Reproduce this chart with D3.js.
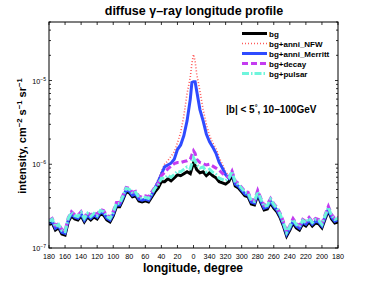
<!DOCTYPE html>
<html>
<head>
<meta charset="utf-8">
<script src="https://cdn.jsdelivr.net/npm/d3@7"></script>
<style>
  html, body { margin: 0; padding: 0; background: #fff; }
  svg text { font-family: "Liberation Sans", Arial, sans-serif; }
</style>
</head>
<body>
<div id="chart"></div>
<script>
// galactic longitude (deg), plotted 180 -> 0 -> -180 (shown as 360-l)
var lon = [180,176,172,168,164,160,156,152,148,144,140,136,132,128,124,120,116,112,108,104,100,
    96,92,88,84,80,76,72,68,64,60,56,52,48,44,40,36,32,28,24,20,16,12,8,4,2,0,-2,
    -4,-8,-12,-16,-20,-24,-28,-32,-36,-40,-44,-48,-52,-56,-60,-64,-68,-72,-76,-80,-84,-88,-92,-96,-100,
    -104,-108,-112,-116,-120,-124,-128,-132,-136,-140,-144,-148,-152,-156,-160,-164,-168,-172,-176,-180];

// intensities in units of 1e-7 cm^-2 s^-1 sr^-1
var bg = [1.89,2.00,1.64,1.74,1.47,1.43,2.05,2.42,2.22,2.16,2.42,2.05,2.35,2.16,2.35,2.22,2.55,2.48,2.16,2.05,2.42,
    3.10,3.10,3.76,4.68,4.56,4.08,4.20,3.65,3.55,3.65,3.55,4.08,4.68,5.20,6.20,6.20,6.70,6.35,6.88,7.48,7.30,7.70,8.13,7.70,9.00,10.4,9.6,
    8.6,7.9,8.13,7.3,7.9,7.3,6.88,6.2,6.0,5.8,6.2,7.48,5.5,5.2,4.68,4.2,4.08,3.36,3.27,4.3,3.46,2.85,2.93,3.46,3.0,
    2.70,2.29,1.83,1.39,1.64,1.99,1.74,1.64,1.94,1.83,2.05,1.83,1.99,1.94,1.74,2.22,2.78,2.22,1.99,2.05];

var annNFW = [1.98,2.10,1.72,1.83,1.54,1.50,2.15,2.54,2.33,2.27,2.54,2.15,2.47,2.27,2.47,2.33,2.68,2.60,2.27,2.15,2.54,
    3.26,3.26,3.95,4.91,4.79,4.28,4.41,3.83,3.73,3.83,3.73,4.30,5.40,6.60,8.2,10.0,11.0,12.5,14.0,18.0,24.0,38.0,70.0,110,160,205,170,
    120,75.0,45.0,30.0,22.0,18.0,15.5,12.0,10.0,8.2,7.2,8.2,6.0,5.46,4.91,4.41,4.28,3.53,3.43,4.52,3.63,2.99,3.08,3.63,3.15,
    2.84,2.40,1.92,1.46,1.72,2.09,1.83,1.72,2.04,1.92,2.15,1.92,2.09,2.04,1.83,2.33,2.92,2.33,2.09,2.15];

var annMerritt = [1.98,2.10,1.72,1.83,1.54,1.50,2.15,2.54,2.33,2.27,2.54,2.15,2.47,2.27,2.47,2.33,2.68,2.60,2.27,2.15,2.54,
    3.26,3.26,3.95,4.91,4.79,4.28,4.41,3.83,3.73,3.83,3.73,4.30,5.20,6.20,7.6,9.3,9.8,10.3,11.5,15.0,17.0,22.0,33.0,60.0,95.0,97.0,97.0,
    75.0,45.0,33.0,23.0,18.5,16.0,13.5,10.5,9.0,7.5,6.8,7.9,5.8,5.46,4.91,4.41,4.28,3.53,3.43,4.52,3.63,2.99,3.08,3.63,3.15,
    2.84,2.40,1.92,1.46,1.72,2.09,1.83,1.72,2.04,1.92,2.15,1.92,2.09,2.04,1.83,2.33,2.92,2.33,2.09,2.15];

var decay = [2.12,2.25,1.86,1.95,1.66,1.60,2.30,2.72,2.50,2.45,2.72,2.32,2.66,2.45,2.66,2.52,2.88,2.80,2.45,2.32,2.74,
    3.50,3.50,4.25,5.28,5.15,4.62,4.75,4.15,4.05,4.20,4.10,4.70,5.35,5.90,7.30,8.00,8.80,9.50,10.2,10.5,10.5,10.8,11.0,11.5,13.0,14.5,13.5,
    11.5,10.5,10.2,9.8,10.0,9.5,9.0,8.5,7.8,7.2,7.0,8.3,6.3,5.9,5.30,4.75,4.62,3.80,3.70,4.86,3.91,3.22,3.31,3.91,3.39,
    3.05,2.59,2.07,1.57,1.85,2.25,1.97,1.85,2.19,2.07,2.32,2.07,2.25,2.19,1.97,2.51,3.14,2.51,2.25,2.32];

var pulsar = [2.08,2.20,1.80,1.91,1.62,1.57,2.26,2.66,2.44,2.38,2.66,2.26,2.59,2.38,2.59,2.44,2.81,2.73,2.38,2.26,2.66,
    3.41,3.41,4.14,5.15,5.02,4.49,4.62,4.02,3.91,4.02,3.91,4.49,5.15,5.72,6.82,6.82,7.37,6.99,7.57,8.23,8.10,8.70,9.30,8.90,10.3,12.0,11.0,
    9.9,9.0,9.3,8.1,8.7,8.0,7.57,6.82,6.6,6.38,6.82,8.23,6.05,5.72,5.15,4.62,4.49,3.70,3.60,4.73,3.81,3.14,3.22,3.81,3.30,
    2.97,2.52,2.01,1.53,1.80,2.19,1.91,1.80,2.13,2.01,2.26,2.01,2.19,2.13,1.91,2.44,3.06,2.44,2.19,2.26];

var seriesNames = ["bg", "bg+anni_NFW", "bg+anni_Merritt", "bg+decay", "bg+pulsar"];
var seriesValues = [bg, annNFW, annMerritt, decay, pulsar];
var xTicks = [180,160,140,120,100,80,60,40,20,0,-20,-40,-60,-80,-100,-120,-140,-160,-180];
var yDecades = [-7, -6, -5];

var LongitudeProfileChart = function(objId) {
    this.objId = objId;
    this.width = 374;
    this.height = 281;
    this.margin = { left: 49, right: 36, top: 22, bottom: 33 };
};

LongitudeProfileChart.prototype = function() {

    var styles = [
        { color: "#000000", width: 3, dash: null },
        { color: "#ff5a5a", width: 1.6, dash: "1,2" },
        { color: "#2f4bff", width: 3, dash: null },
        { color: "#c43cf0", width: 3, dash: "6,3" },
        { color: "#6ef5dc", width: 3, dash: "7,2,1.5,2" }
    ];

    function sup(sel, txt) {
        sel.append("tspan").attr("baseline-shift", "super").attr("font-size", "70%").text(txt);
    }

    function draw() {
        var _this = this,
            m = _this.margin,
            x0 = m.left, x1 = _this.width - m.right,
            y0 = _this.height - m.bottom, y1 = m.top;

        var svg = d3.select("#" + _this.objId).append("svg")
            .attr("width", _this.width)
            .attr("height", _this.height);

        var x = d3.scaleLinear().domain([180, -180]).range([x0, x1]);
        var y = d3.scaleLog().domain([1e-7, 5e-5]).range([y0, y1]);

        // clip
        svg.append("clipPath").attr("id", "plotClip")
            .append("rect").attr("x", x0).attr("y", y1).attr("width", x1 - x0).attr("height", y0 - y1);

        var line = d3.line()
            .x(function(d) { return x(d[0]); })
            .y(function(d) { return y(d[1] * 1e-7); })
            .curve(d3.curveLinear);

        var g = svg.append("g").attr("clip-path", "url(#plotClip)");
        seriesValues.forEach(function(vals, i) {
            var pts = lon.map(function(l, k) { return [l, vals[k]]; });
            g.append("path")
                .attr("d", line(pts))
                .attr("fill", "none")
                .attr("stroke", styles[i].color)
                .attr("stroke-width", styles[i].width)
                .attr("stroke-dasharray", styles[i].dash)
                .attr("stroke-linejoin", "miter");
        });

        // box
        svg.append("rect").attr("x", x0).attr("y", y1).attr("width", x1 - x0).attr("height", y0 - y1)
            .attr("fill", "none").attr("stroke", "#000").attr("stroke-width", 1);

        // x ticks (inward, top and bottom)
        var tk = svg.append("g").attr("stroke", "#000").attr("stroke-width", 0.8);
        xTicks.forEach(function(t) {
            tk.append("line").attr("x1", x(t)).attr("x2", x(t)).attr("y1", y0).attr("y2", y0 - 3);
            tk.append("line").attr("x1", x(t)).attr("x2", x(t)).attr("y1", y1).attr("y2", y1 + 3);
        });
        // y ticks, major and minor
        yDecades.forEach(function(p) {
            for (var k = 1; k <= 9; k++) {
                var v = k * Math.pow(10, p);
                if (v > 5e-5) break;
                var len = k === 1 ? 3 : 2;
                tk.append("line").attr("x1", x0).attr("x2", x0 + len).attr("y1", y(v)).attr("y2", y(v));
                tk.append("line").attr("x1", x1).attr("x2", x1 - len).attr("y1", y(v)).attr("y2", y(v));
            }
        });

        // x tick labels
        svg.append("g").selectAll("text").data(xTicks).join("text")
            .attr("x", function(d) { return x(d); })
            .attr("y", y0 + 11)
            .attr("text-anchor", "middle")
            .attr("font-size", 7.2)
            .text(function(d) { return d < 0 ? d + 360 : d; });

        // y tick labels
        yDecades.forEach(function(p) {
            var t = svg.append("text")
                .attr("x", x0 - 3).attr("y", y(Math.pow(10, p)) + 3)
                .attr("text-anchor", "end")
                .attr("font-size", 7.2);
            t.append("tspan").text("10");
            sup(t, "\u2212" + (-p));
        });

        // title & axis labels
        svg.append("text").attr("x", 194).attr("y", 15)
            .attr("text-anchor", "middle").attr("font-size", 12.5).attr("font-weight", "bold")
            .text("diffuse \u03b3\u2013ray longitude profile");

        svg.append("text").attr("x", 193).attr("y", 272)
            .attr("text-anchor", "middle").attr("font-size", 12).attr("font-weight", "bold")
            .text("longitude, degree");

        var yl = svg.append("text")
            .attr("transform", "translate(26,136) rotate(-90)")
            .attr("text-anchor", "middle").attr("font-size", 11).attr("font-weight", "bold");
        yl.append("tspan").text("intensity, cm");
        sup(yl, "\u22122");
        yl.append("tspan").text(" s");
        sup(yl, "\u22121");
        yl.append("tspan").text(" sr");
        sup(yl, "\u22121");

        // annotation
        var an = svg.append("text").attr("x", 226).attr("y", 113)
            .attr("font-size", 10).attr("font-weight", "bold");
        an.append("tspan").text("|b| < 5");
        sup(an, "\u00b0");
        an.append("tspan").text(", 10\u2013100GeV");

        // legend
        var lg = svg.append("g");
        seriesNames.forEach(function(name, i) {
            var ly = 33.5 + i * 10;
            lg.append("line").attr("x1", 242).attr("x2", 267).attr("y1", ly).attr("y2", ly)
                .attr("stroke", styles[i].color)
                .attr("stroke-width", styles[i].width)
                .attr("stroke-dasharray", styles[i].dash);
            lg.append("text").attr("x", 269).attr("y", ly + 3)
                .attr("font-size", 8).attr("font-weight", "bold")
                .text(name);
        });
    }

    return {
        draw: draw
    };
}();

var chart = new LongitudeProfileChart("chart");
chart.draw();
</script>
</body>
</html>
